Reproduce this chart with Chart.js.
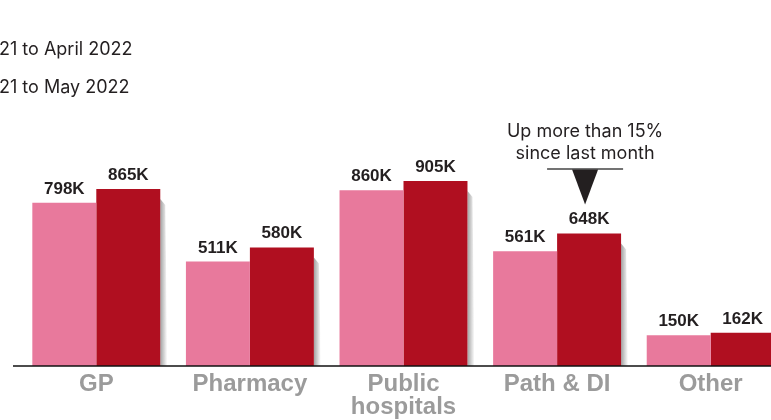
<!DOCTYPE html>
<html>
<head>
<meta charset="utf-8">
<script src="https://cdn.jsdelivr.net/npm/chart.js@4.4.1/dist/chart.umd.min.js"></script>
<style>
  html, body { margin: 0; padding: 0; background: #fff; overflow: hidden; }
  #wrap { position: relative; width: 771px; height: 420px; overflow: hidden; }
  canvas { position: absolute; left: 0; top: 0; }
</style>
</head>
<body>
<div id="wrap"><canvas id="chart" width="800" height="420"></canvas></div>
<script>
// Data
const categories = [['GP'], ['Pharmacy'], ['Public', 'hospitals'], ['Path & DI'], ['Other']];
const seriesLabels = ['21 to April 2022', '21 to May 2022'];
const aprilValues = [798, 511, 860, 561, 150];
const mayValues = [865, 580, 905, 648, 162];
const noteLines = ['Up more than 15%', 'since last month'];
const noteIndex = 3;

const pink = '#e8799c';
const red = '#b00f20';
const dark = '#231f20';

const decor = {
    id: 'decor',
    beforeDatasetsDraw(chart) {
        // soft shadow on the right of the dark bars
        const ctx = chart.ctx;
        chart.getDatasetMeta(1).data.forEach(bar => {
            const right = bar.x + bar.width / 2;
            const top = bar.y + 10;
            const bottom = bar.base;
            const g = ctx.createLinearGradient(right, 0, right + 7, 0);
            g.addColorStop(0, 'rgba(70,70,70,0.5)');
            g.addColorStop(1, 'rgba(70,70,70,0)');
            ctx.save();
            ctx.fillStyle = g;
            ctx.beginPath();
            ctx.moveTo(right, top);
            ctx.lineTo(right + 5, top + 6);
            ctx.lineTo(right + 7, bottom);
            ctx.lineTo(right, bottom);
            ctx.closePath();
            ctx.fill();
            ctx.restore();
        });
    },
    afterDatasetsDraw(chart) {
        const ctx = chart.ctx;
        const zeroY = chart.scales.y.getPixelForValue(0);

        // baseline
        ctx.save();
        ctx.strokeStyle = '#111';
        ctx.lineWidth = 1.5;
        ctx.beginPath();
        ctx.moveTo(13, zeroY);
        ctx.lineTo(chart.width, zeroY);
        ctx.stroke();

        // value labels
        ctx.fillStyle = dark;
        ctx.font = 'bold 17px "Liberation Sans", Arial, sans-serif';
        ctx.textAlign = 'center';
        ctx.textBaseline = 'alphabetic';
        chart.data.datasets.forEach((ds, i) => {
            chart.getDatasetMeta(i).data.forEach((bar, j) => {
                ctx.fillText(ds.data[j] + 'K', bar.x, bar.y - 9);
            });
        });

        // annotation
        const bar = chart.getDatasetMeta(1).data[noteIndex];
        const cx = bar.x - 4;
        ctx.font = '18px Inter, "Noto Sans", sans-serif';
        ctx.textBaseline = 'middle';
        ctx.fillText(noteLines[0], cx, bar.y - 102);
        ctx.fillText(noteLines[1], cx, bar.y - 80);
        ctx.strokeStyle = '#444';
        ctx.lineWidth = 1.5;
        ctx.beginPath();
        ctx.moveTo(cx - 38, bar.y - 64.5);
        ctx.lineTo(cx + 38, bar.y - 64.5);
        ctx.stroke();
        ctx.fillStyle = '#231f20';
        ctx.beginPath();
        ctx.moveTo(cx - 13, bar.y - 64);
        ctx.lineTo(cx + 13, bar.y - 64);
        ctx.lineTo(cx, bar.y - 29);
        ctx.closePath();
        ctx.fill();

        // legend text (markers fall outside the crop)
        ctx.fillStyle = dark;
        ctx.font = '18px Inter, "Noto Sans", sans-serif';
        ctx.textAlign = 'left';
        ctx.fillText(seriesLabels[0], -1, 50);
        ctx.fillText(seriesLabels[1], -1, 88);
        ctx.restore();
    }
};

new Chart(document.getElementById('chart').getContext('2d'), {
    type: 'bar',
    data: {
        labels: categories,
        datasets: [
            { label: seriesLabels[0], data: aprilValues, backgroundColor: pink, borderWidth: 0 },
            { label: seriesLabels[1], data: mayValues, backgroundColor: red, borderWidth: 0 }
        ]
    },
    options: {
        responsive: false,
        animation: false,
        datasets: { bar: { categoryPercentage: 0.833, barPercentage: 1 } },
        layout: { padding: { left: 19.5, right: 12.5, top: 161.5, bottom: 0 } },
        plugins: {
            legend: { display: false },
            tooltip: { enabled: false }
        },
        scales: {
            y: { display: false, min: 0, max: 1000 },
            x: {
                grid: { display: false, drawTicks: false },
                border: { display: false },
                ticks: {
                    color: '#9b9b9b',
                    padding: 7,
                    maxRotation: 0,
                    autoSkip: false,
                    font: { family: '"Liberation Sans", Arial, sans-serif', weight: 'bold', size: 24, lineHeight: 0.96 }
                },
                afterFit(scale) { scale.height = 54; }
            }
        }
    },
    plugins: [decor]
});
</script>
</body>
</html>
